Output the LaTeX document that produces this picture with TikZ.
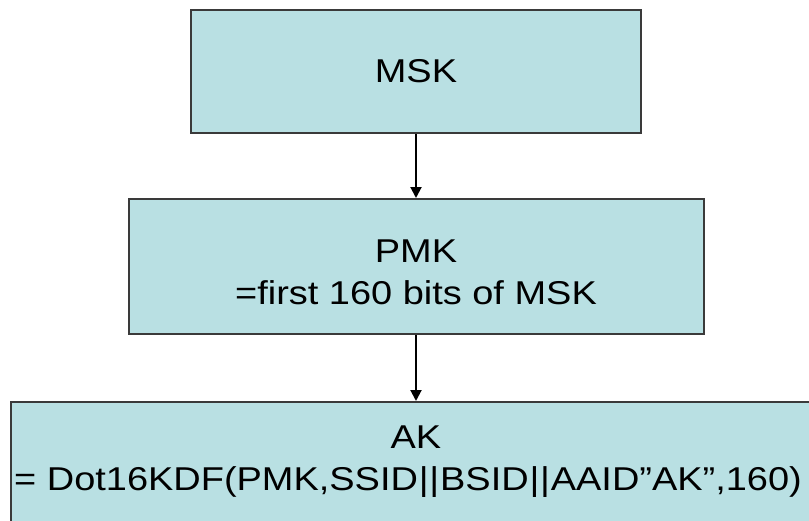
\documentclass[tikz,border=0pt]{standalone}
\usepackage{fontspec}
\usetikzlibrary{arrows.meta}
\newfontfamily\keyfont[FakeStretch=1.15]{Liberation Sans}
\definecolor{boxfill}{HTML}{B9E0E3}
\definecolor{boxline}{HTML}{3A3A3A}
\newcommand\barsep{\kern0.8pt|\kern0.8pt|\kern0.8pt}

\begin{document}
\begin{tikzpicture}[x=1pt,y=-1pt,
    keybox/.style={draw=boxline,fill=boxfill,line width=2pt,align=center,
                   inner sep=0pt,font=\keyfont\fontsize{33}{42}\selectfont}]
\useasboundingbox (0,0) rectangle (809,520);
\path
      (416, 71.5) node [keybox,minimum width=450,minimum height=123] (msk) {MSK}
      (416,266.5) node [keybox,minimum width=575,minimum height=135] (pmk)
                  {\rule{0pt}{34pt}PMK\\=first 160 bits of MSK}
      (416,462  ) node [keybox,minimum width=810,minimum height=120] (ak)
                  {AK\\= Dot16KDF(PMK,SSID\barsep BSID\barsep AAID”AK”,160)\hspace*{16pt}};
\draw[-{Triangle[width=11pt,length=11pt]},line width=2pt]
    (msk.south) -- (pmk.north);
\draw[-{Triangle[width=11pt,length=11pt]},line width=2pt]
    (pmk.south) -- (ak.north);
\end{tikzpicture}
\end{document}
